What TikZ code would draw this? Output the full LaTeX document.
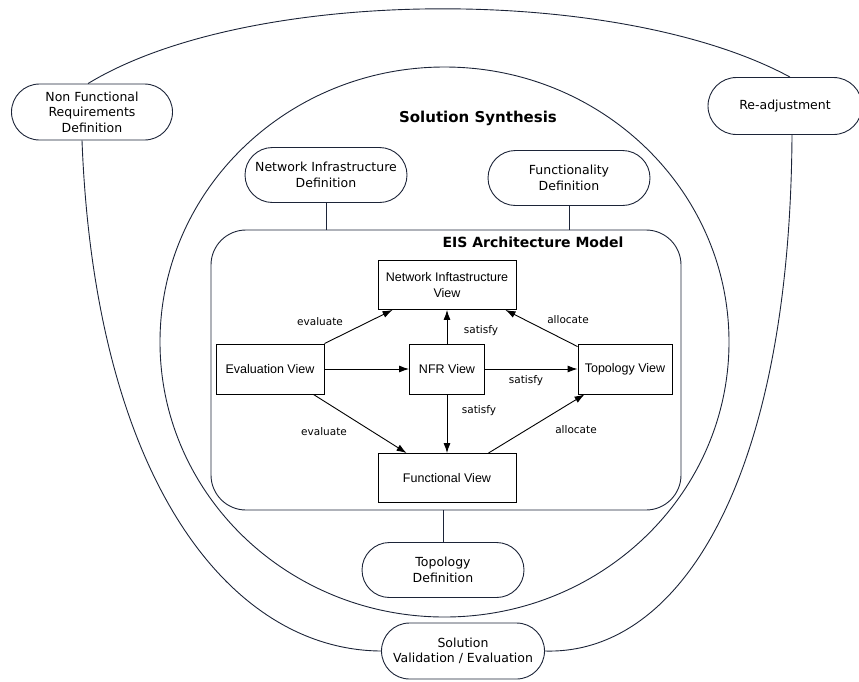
\documentclass[tikz,border=0pt]{standalone}
\usepackage{fontspec}
\setmainfont{DejaVu Sans}
\newfontfamily\arialfont{Liberation Sans}
\usetikzlibrary{shapes.misc,arrows.meta}

\definecolor{navy}{RGB}{28,36,56}

\begin{document}
\begin{tikzpicture}[x=1pt,y=-1pt,
  pill/.style={rounded rectangle, draw=navy, line width=0.9pt, fill=white, align=center,
    font=\fontsize{12.5}{15.5}\selectfont, inner sep=0pt},
  viewbox/.style={rectangle, draw=black, line width=0.9pt, fill=white, align=center,
    font=\arialfont\fontsize{12.5}{15.5}\selectfont, inner sep=0pt},
  flow/.style={draw=black, line width=0.9pt, -{Latex[length=10pt,width=7pt]}},
  lbl/.style={font=\fontsize{10.5}{12}\selectfont, inner sep=0pt},
  heading/.style={font=\bfseries\fontsize{14}{16}\selectfont, inner sep=0pt},
  link/.style={draw=navy, line width=0.9pt}]

\useasboundingbox (0,0) rectangle (859,681);

% solution synthesis region
\draw[link] (444.5,342) ellipse [x radius=284.5pt, y radius=275pt];
\node[heading, font=\bfseries\fontsize{15}{17}\selectfont] (synth) at (478,118) {Solution Synthesis};

% outer process nodes
\node[pill, minimum width=161pt, minimum height=56pt] (nfrdef) at (92,112)
  {Non Functional\\Requirements\\Definition};
\node[pill, minimum width=154pt, minimum height=57pt] (readj) at (785,106)
  {Re-adjustment};
\node[pill, minimum width=163pt, minimum height=56pt] (sval) at (463,651)
  {Solution\\Validation / Evaluation};

% feedback loop
\draw[link] ([xshift=-4pt]nfrdef.north) .. controls (250,-15) and (620,-15) .. ([xshift=5pt]readj.north);
\draw[link] ([xshift=-10pt]nfrdef.south) .. controls (95,480) and (230,650) .. (sval.west);
\draw[link] ([xshift=7pt]readj.south) .. controls (790,480) and (680,655) .. (sval.east);

% definition nodes inside the synthesis region
\node[pill, minimum width=162pt, minimum height=55pt] (nidef) at (326,175)
  {Network Infrastructure\\Definition};
\node[pill, minimum width=162pt, minimum height=55pt] (fdef) at (569,178)
  {Functionality\\Definition};
\node[pill, minimum width=162pt, minimum height=55pt] (tdef) at (443,570)
  {Topology\\Definition};

% architecture model container
\node[draw=navy, line width=0.9pt, rounded corners=35pt, minimum width=470pt,
  minimum height=280pt] (eis) at (446,370) {};
\node[heading] (eistitle) at (533,242) {EIS Architecture Model};

\draw[link] (nidef.south) -- (nidef.south |- eis.north);
\draw[link] (fdef.south) -- (fdef.south |- eis.north);
\draw[link] (tdef.north) -- (tdef.north |- eis.south);

% views
\node[viewbox, minimum width=138pt, minimum height=49pt] (net) at (447,285)
  {Network Inftastructure\\View};
\node[viewbox, minimum width=108pt, minimum height=50pt] (eval) at (270,369)
  {Evaluation View};
\node[viewbox, minimum width=75pt, minimum height=50pt] (nfrv) at (447,369)
  {NFR View};
\node[viewbox, minimum width=94pt, minimum height=50pt] (topo) at (625,369)
  {Topology View};
\node[viewbox, minimum width=138pt, minimum height=49pt] (fun) at (447,478)
  {Functional View};

% relations between views
\draw[flow] (eval.north east) -- ([xshift=15pt]net.south west);
\draw[flow] (eval.east) -- (nfrv.west);
\draw[flow] (nfrv.north) -- (net.south);
\draw[flow] ([yshift=-3pt]topo.north west) -- ([xshift=-11pt]net.south east);
\draw[flow] (nfrv.east) -- (topo.west);
\draw[flow] (nfrv.south) -- (fun.north);
\draw[flow] ([xshift=-11pt]eval.south east) -- ([xshift=29pt]fun.north west);
\draw[flow] ([xshift=-28pt]fun.north east) -- ([xshift=7pt]topo.south west);

\node[lbl] (l1) at (320,322) {evaluate};
\node[lbl] (l2) at (481,331) {satisfy};
\node[lbl] (l3) at (568,320) {allocate};
\node[lbl] (l4) at (526,381) {satisfy};
\node[lbl] (l5) at (479,411) {satisfy};
\node[lbl] (l6) at (324,432) {evaluate};
\node[lbl] (l7) at (576,430) {allocate};

\end{tikzpicture}
\end{document}
